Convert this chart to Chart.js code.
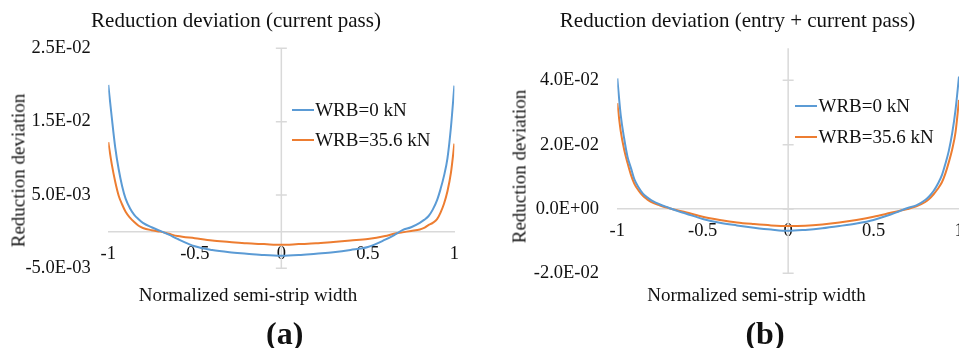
<!DOCTYPE html>
<html>
<head>
<meta charset="utf-8">
<script src="https://cdn.jsdelivr.net/npm/chart.js@4.4.1/dist/chart.umd.min.js"></script>
<style>
  html, body { margin: 0; padding: 0; background: #fff; overflow: hidden; width: 959px; height: 348px; }
  body { position: relative; font-family: "Liberation Serif", "Times New Roman", serif; color: #111; }
  .wrap { position: absolute; top: 0; }
  .txt { position: absolute; white-space: nowrap; text-align: center; line-height: 1; }
  .title { font-size: 21px; height: 21px; }
  .axt { font-size: 19px; height: 19px; }
  .ytitle { transform: rotate(-90deg); }
  .cap { font-size: 32px; height: 32px; font-weight: bold; }
  .legend { position: absolute; }
  .lg-row { position: relative; height: 30.7px; }
  .lg-line { position: absolute; left: 0; top: 9px; width: 22px; border-top: 2px solid; }
  .lg-text { position: absolute; left: 23.5px; top: 0; font-size: 19px; line-height: 19px; white-space: nowrap; }
</style>
</head>
<body>

<div class="wrap" style="left:0;width:470px;height:348px"><canvas id="chartA" width="470" height="348"></canvas></div>
<div class="wrap" style="left:479px;width:500px;height:348px"><canvas id="chartB" width="500" height="348"></canvas></div>

<div class="txt title" style="left:0;width:472px;top:9.7px">Reduction deviation (current pass)</div>
<div class="txt title" style="left:487.5px;width:500px;top:9.7px">Reduction deviation (entry + current pass)</div>

<div class="txt axt" style="left:48px;width:400px;top:284.8px">Normalized semi-strip width</div>
<div class="txt axt" style="left:556.5px;width:400px;top:284.8px">Normalized semi-strip width</div>

<div class="txt axt ytitle" style="left:-81.9px;width:200px;top:160.5px">Reduction deviation</div>
<div class="txt axt ytitle" style="left:418.6px;width:200px;top:157.2px">Reduction deviation</div>

<div class="txt cap" style="left:184.7px;width:200px;top:317.2px">(a)</div>
<div class="txt cap" style="left:665px;width:200px;top:317.2px">(b)</div>

<div class="legend" id="legendA" style="left:291.7px;top:99.5px"></div>
<div class="legend" id="legendB" style="left:795px;top:96px"></div>

<script>
  // normalized position across the semi-strip (denser near the edges)
  const xs = [-1, -0.98, -0.96, -0.94, -0.92, -0.9, -0.875, -0.85, -0.825, -0.8,
              -0.75, -0.7, -0.65, -0.6, -0.5, -0.4, -0.3, -0.2, -0.1, 0,
              0.1, 0.2, 0.3, 0.4, 0.5, 0.6, 0.65, 0.7, 0.75,
              0.8, 0.825, 0.85, 0.875, 0.9, 0.92, 0.94, 0.96, 0.98, 1];
  const xTicks = [-1, -0.5, 0, 0.5, 1];

  // (a) current pass
  const yTicksA = [-0.005, 0.005, 0.015, 0.025];
  const wrb0A = [0.0200, 0.0156, 0.0115, 0.0085, 0.0062, 0.0045, 0.0032, 0.0023, 0.0017, 0.0012,
                 0.0006, 0.0001, -0.0004, -0.0010, -0.0020, -0.0025, -0.0028, -0.0030, -0.0032, -0.0033,
                 -0.0032, -0.0030, -0.0028, -0.0025, -0.0021, -0.0011, -0.0005, 0.0002, 0.0006,
                 0.0012, 0.0016, 0.0021, 0.0030, 0.0043, 0.0058, 0.0076, 0.0100, 0.0142, 0.0199];
  const wrb356A = [0.0122, 0.0092, 0.0068, 0.0049, 0.0037, 0.0027, 0.0019, 0.0013, 0.0008, 0.0005,
                   0.0002, 0.0000, -0.0003, -0.0006, -0.0009, -0.0012, -0.0014, -0.0016, -0.0017, -0.0018,
                   -0.0017, -0.0016, -0.0014, -0.0012, -0.0010, -0.0006, -0.0003, -0.0001, 0.0001,
                   0.0003, 0.0005, 0.0009, 0.0012, 0.0017, 0.0026, 0.0038, 0.0055, 0.0080, 0.0120];

  // (b) entry + current pass
  const yTicksB = [-0.02, 0, 0.02, 0.04];
  const wrb0B = [0.0406, 0.0292, 0.0220, 0.0162, 0.0127, 0.0092, 0.0067, 0.0048, 0.0036, 0.0027,
                 0.0014, 0.0004, -0.0006, -0.0014, -0.0031, -0.0043, -0.0051, -0.0058, -0.0064, -0.0068,
                 -0.0065, -0.0060, -0.0053, -0.0045, -0.0034, -0.0017, -0.0007, 0.0003, 0.0011,
                 0.0027, 0.0039, 0.0055, 0.0077, 0.0105, 0.0140, 0.0180, 0.0235, 0.0310, 0.0412];
  const wrb356B = [0.0329, 0.0242, 0.0185, 0.0143, 0.0106, 0.0078, 0.0057, 0.0041, 0.0030, 0.0021,
                   0.0011, 0.0003, -0.0004, -0.0010, -0.0024, -0.0034, -0.0042, -0.0047, -0.0051, -0.0053,
                   -0.0052, -0.0048, -0.0042, -0.0034, -0.0024, -0.0012, -0.0006, 0.0000, 0.0008,
                   0.0021, 0.0031, 0.0045, 0.0062, 0.0083, 0.0110, 0.0145, 0.0185, 0.0240, 0.0339];

  const BLUE = "#5B9BD5";
  const ORANGE = "#ED7D31";
  const AXIS = "#D9D9D9";
  const FONT = { family: "'Liberation Serif', 'Times New Roman', serif", size: 18.5 };

  // vertical axis through x = 0 with cross tick marks at each y tick
  const centreAxis = {
    id: "centreAxis",
    beforeDatasetsDraw(chart) {
      const { ctx, chartArea, scales: { x, y } } = chart;
      const px = x.getPixelForValue(0);
      ctx.save();
      ctx.strokeStyle = AXIS;
      ctx.lineWidth = 1.5;
      ctx.beginPath();
      ctx.moveTo(px, chartArea.top);
      ctx.lineTo(px, chartArea.bottom);
      y.ticks.forEach(t => {
        const py = y.getPixelForValue(t.value);
        ctx.moveTo(px - 5.5, py);
        ctx.lineTo(px + 5.5, py);
      });
      ctx.stroke();
      ctx.restore();
    }
  };

  function sciLabel(v) {
    const [m, e] = Number(v).toExponential(1).split("e");
    const n = parseInt(e, 10);
    return m + "E" + (n < 0 ? "-" : "+") + String(Math.abs(n)).padStart(2, "0");
  }

  function series(vals) {
    return xs.map((x, i) => ({ x, y: vals[i] }));
  }

  function line(label, vals, color) {
    return {
      label,
      data: series(vals),
      borderColor: color,
      backgroundColor: color,
      borderWidth: 2,
      pointRadius: 0,
      cubicInterpolationMode: "monotone"
    };
  }

  function buildLegend(chart, el) {
    chart.data.datasets.forEach(ds => {
      const row = document.createElement("div");
      row.className = "lg-row";
      const sw = document.createElement("span");
      sw.className = "lg-line";
      sw.style.borderTopColor = ds.borderColor;
      const tx = document.createElement("span");
      tx.className = "lg-text";
      tx.textContent = ds.label;
      row.append(sw, tx);
      el.appendChild(row);
    });
  }

  function makeChart(id, cfg) {
    const canvas = document.getElementById(id);
    return new Chart(canvas.getContext("2d"), {
      type: "line",
      data: {
        datasets: [
          line("WRB=0 kN", cfg.blue, BLUE),
          line("WRB=35.6 kN", cfg.orange, ORANGE)
        ]
      },
      options: {
        responsive: false,
        animation: false,
        devicePixelRatio: 1,
        layout: { padding: cfg.padding },
        plugins: {
          legend: { display: false },
          title: { display: false },
          tooltip: { enabled: false }
        },
        scales: {
          x: {
            type: "linear",
            position: { y: 0 },
            min: -1,
            max: 1,
            afterBuildTicks: s => { s.ticks = xTicks.map(v => ({ value: v })); },
            grid: { display: false, drawTicks: false },
            border: { display: true, color: AXIS, width: 1.5 },
            ticks: { font: FONT, color: "#111", padding: 11, maxRotation: 0, autoSkip: false, callback: v => String(v) }
          },
          y: {
            type: "linear",
            position: "left",
            min: cfg.yMin,
            max: cfg.yMax,
            afterBuildTicks: s => { s.ticks = cfg.yTicks.map(v => ({ value: v })); },
            afterFit: s => { s.width = cfg.axisWidth; },
            grid: { display: false, drawTicks: false },
            border: { display: false },
            ticks: { font: FONT, color: "#111", padding: cfg.labelPad, autoSkip: false, callback: v => sciLabel(v) }
          }
        }
      },
      plugins: [centreAxis]
    });
  }

  document.addEventListener("DOMContentLoaded", () => {
    const chartA = makeChart("chartA", {
      blue: wrb0A, orange: wrb356A,
      yMin: -0.005, yMax: 0.025, yTicks: yTicksA,
      axisWidth: 108.3, labelPad: 17.6,
      padding: { left: 0, top: 48.3, right: 12.7, bottom: 79.7 }
    });
    const chartB = makeChart("chartB", {
      blue: wrb0B, orange: wrb356B,
      yMin: -0.02, yMax: 0.05, yTicks: yTicksB,
      axisWidth: 138.3, labelPad: 18.3,
      padding: { left: 0, top: 48.2, right: 20, bottom: 74.7 }
    });
    buildLegend(chartA, document.getElementById("legendA"));
    buildLegend(chartB, document.getElementById("legendB"));
  });
</script>
</body>
</html>
